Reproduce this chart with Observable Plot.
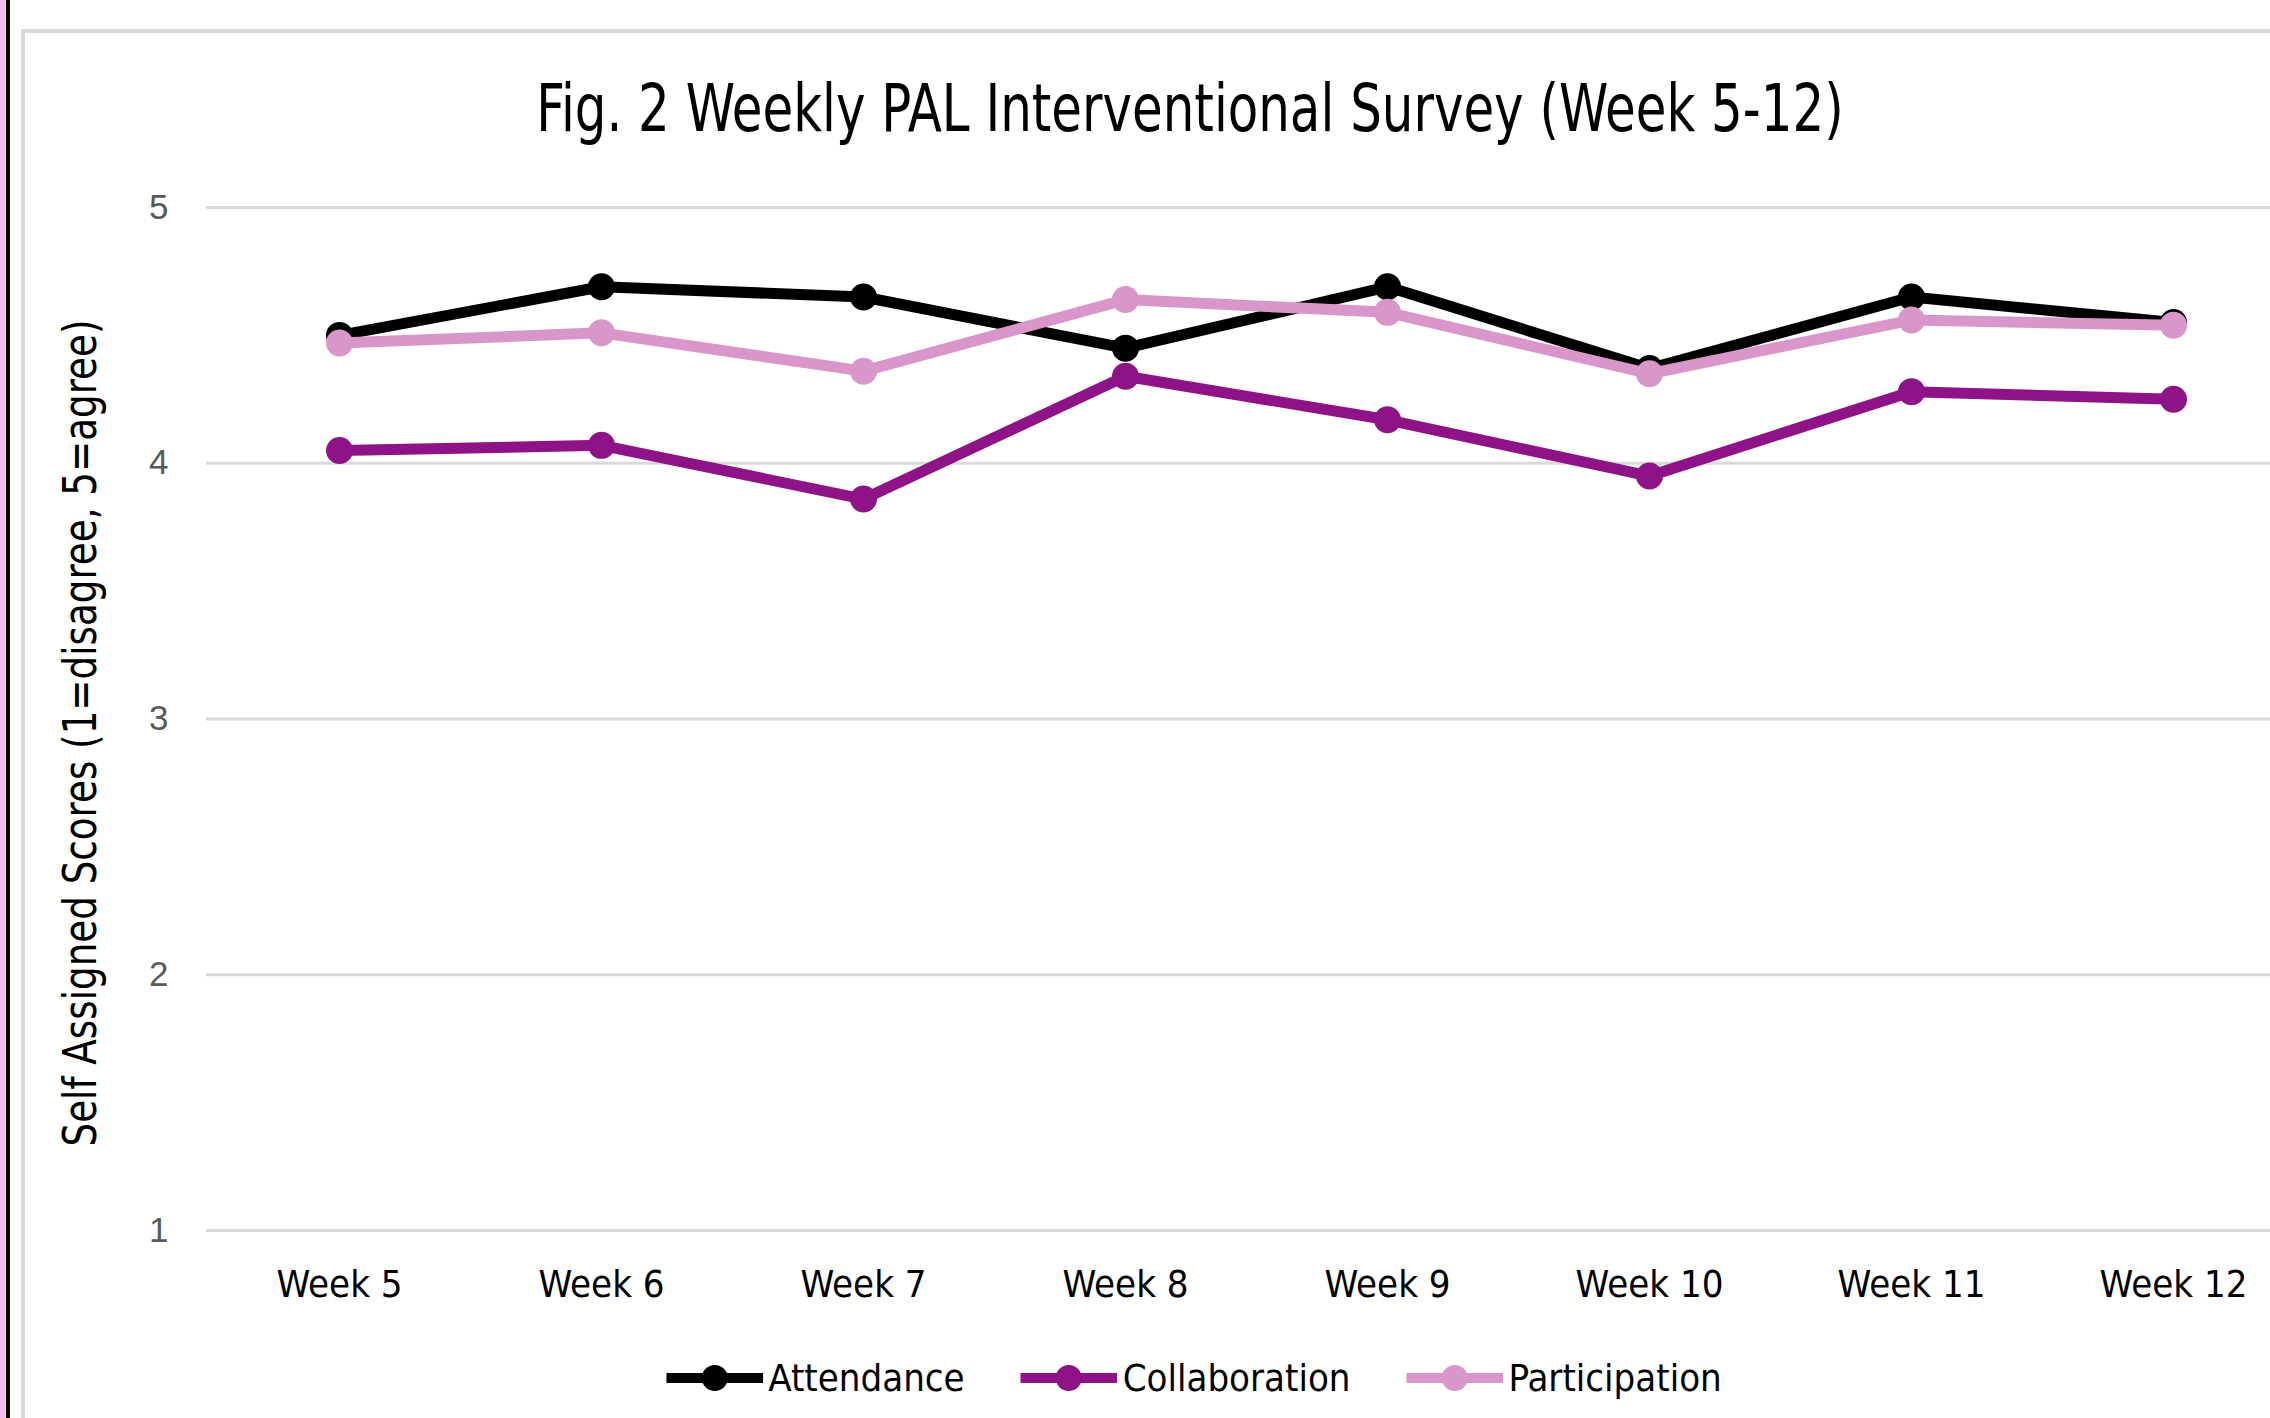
<!DOCTYPE html>
<html><head><meta charset="utf-8">
<script src="https://cdn.jsdelivr.net/npm/d3@7"></script>
<script src="https://cdn.jsdelivr.net/npm/@observablehq/plot@0.6"></script>
<style>
html,body{margin:0;padding:0;background:#fff;overflow:hidden;width:2270px;height:1418px;}
#root{position:relative;width:2270px;height:1418px;overflow:hidden;background:#fff;}
.strip1{position:absolute;left:0;top:0;width:6px;height:1418px;background:#F8BEEF;}
.strip2{position:absolute;left:6px;top:0;width:4px;height:1418px;background:#000;}
.frame{position:absolute;left:21px;top:29px;width:2400px;height:1500px;border:4px solid #D9D9D9;box-sizing:border-box;}
.narrow{font-family:"Liberation Sans Narrow","Arial Narrow","DejaVu Sans Condensed",sans-serif;}
#title{position:absolute;left:1190px;top:108px;transform:translate(-50%,-50%) scaleX(0.84);font-size:66px;white-space:nowrap;color:#000;}
#ytitle{position:absolute;left:80px;top:733px;transform:translate(-50%,-50%) rotate(-90deg) scaleX(0.9);font-size:46px;white-space:nowrap;color:#000;}
#chart{position:absolute;left:0;top:0;width:2310px;}
#chart svg{max-width:none !important;}
#legend{position:absolute;left:1194px;top:1378px;transform:translate(-50%,-50%);display:flex;align-items:center;white-space:nowrap;}
.item{display:flex;align-items:center;margin:0 28px;font-size:38px;color:#000;}
.item svg{margin-right:5px;}
</style>
</head><body>
<div id="root">
  <div class="strip1"></div><div class="strip2"></div>
  <div class="frame"></div>
  <div id="chart"></div>
  <div id="title" class="narrow">Fig. 2 Weekly PAL Interventional Survey (Week 5-12)</div>
  <div id="ytitle" class="narrow">Self Assigned Scores (1=disagree, 5=agree)</div>
  <div id="legend" class="narrow"></div>
</div>
<script>
const weeks = ["Week 5","Week 6","Week 7","Week 8","Week 9","Week 10","Week 11","Week 12"];
const series = ["Attendance","Collaboration","Participation"];
const attendance    = [4.50,4.69,4.65,4.45,4.69,4.37,4.65,4.55];
const collaboration = [4.05,4.07,3.86,4.34,4.17,3.95,4.28,4.25];
const participation = [4.47,4.51,4.36,4.64,4.59,4.35,4.56,4.54];
const yTicks = [1,2,3,4,5];
const colors = ["#000000","#8E1387","#D896CB"];

const values = [attendance, collaboration, participation];
const rows = series.map((s, k) => weeks.map((w, i) => ({series: s, week: w, value: values[k][i]})));

const narrow = '"Liberation Sans Narrow","Arial Narrow","DejaVu Sans Condensed",sans-serif';
const seriesMarks = rows.flatMap(r => [
  Plot.line(r, {x: "week", y: "value", stroke: "series", strokeWidth: 11, strokeLinejoin: "miter"}),
  Plot.dot(r, {x: "week", y: "value", fill: "series", r: 13.5, stroke: "none"})
]);

const chart = Plot.plot({
  width: 2310, height: 1330,
  marginLeft: 206, marginRight: 4, marginTop: 207, marginBottom: 100,
  style: {background: "transparent", overflow: "visible", maxWidth: "none"},
  x: {type: "point", domain: weeks, padding: 0.5},
  y: {domain: [1, 5]},
  color: {domain: series, range: colors},
  marks: [
    Plot.gridY(yTicks, {stroke: "#D9D9D9", strokeOpacity: 1, strokeWidth: 3}),
    Plot.axisY(yTicks, {tickSize: 0, tickPadding: 38, fontSize: 35, label: null, fill: "#595959", fontFamily: '"Liberation Sans",Arial,sans-serif', tickFormat: d => String(d)}),
    Plot.axisX({tickSize: 0, tickPadding: 40, fontSize: 38, label: null, fill: "#000", fontFamily: narrow}),
    ...seriesMarks
  ]
});
document.getElementById("chart").appendChild(chart);

const legend = document.getElementById("legend");
series.forEach((s, k) => {
  const item = document.createElement("div");
  item.className = "item";
  item.innerHTML = `<svg width="97" height="30"><line x1="0" y1="15" x2="97" y2="15" stroke="${colors[k]}" stroke-width="10"/><circle cx="48.5" cy="15" r="13" fill="${colors[k]}"/></svg><span>${s}</span>`;
  legend.appendChild(item);
});
</script>
</body></html>
